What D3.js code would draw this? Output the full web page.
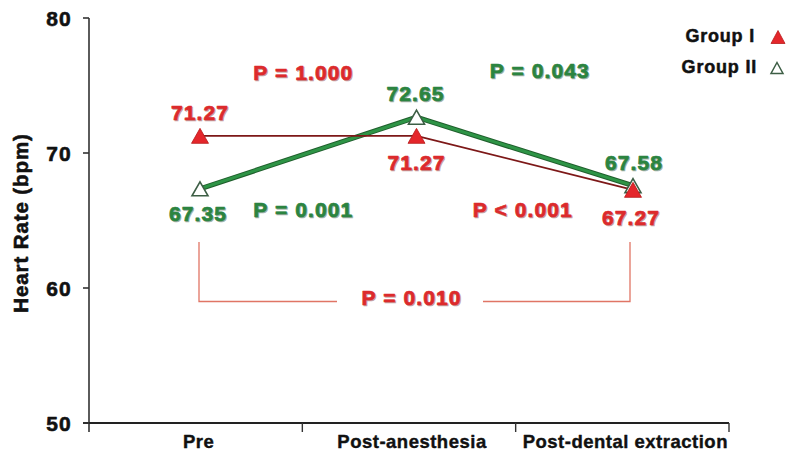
<!DOCTYPE html>
<html><head><meta charset="utf-8">
<script src="https://cdn.jsdelivr.net/npm/d3@7"></script>
<style>
html,body{margin:0;padding:0;background:#fff;}
svg{display:block;font-family:"Liberation Sans",Arial,Helvetica,sans-serif;font-weight:bold;}
</style></head>
<body>
<svg id="chart" width="789" height="455"></svg>
<script>
// ---- data ----
const categories = ["Pre", "Post-anesthesia", "Post-dental extraction"];
const group1 = [71.27, 71.27, 67.27];
const group2 = [67.35, 72.65, 67.58];
const seriesNames = ["Group I", "Group II"];
const yTicks = [50, 60, 70, 80];
const pLabels = ["P = 1.000", "P = 0.001", "P = 0.043", "P < 0.001", "P = 0.010"];

// ---- setup ----
const red = "#dc2a2c", green = "#2b8440", darkRed = "#7d1818", bracketCol = "#e07565";
const svg = d3.select("#chart");
const y = d3.scaleLinear().domain([50, 80]).range([423, 18]);
const xBand = d3.scaleBand().domain(categories).range([89, 729]);
const x = d3.scalePoint().domain(categories).range([200, 633]);

function heavy(sel, col, w) {
  return sel.attr("fill", col).attr("stroke", col).attr("stroke-width", w).attr("stroke-linejoin", "round");
}

// axes
const axisG = svg.append("g");
axisG.append("line").attr("x1", 89).attr("x2", 89).attr("y1", y(80)).attr("y2", y(50) + 9)
  .attr("stroke", "#333").attr("stroke-width", 1.6);
axisG.append("line").attr("x1", 83).attr("x2", 729).attr("y1", y(50)).attr("y2", y(50))
  .attr("stroke", "#222").attr("stroke-width", 1.8);
yTicks.forEach(t => {
  axisG.append("line").attr("x1", 83).attr("x2", 89).attr("y1", y(t)).attr("y2", y(t))
    .attr("stroke", "#333").attr("stroke-width", 1.6);
  heavy(axisG.append("text").attr("x", 72).attr("y", y(t) + 7.5).attr("text-anchor", "end")
    .attr("font-size", 21).attr("letter-spacing", 1.2).text(t), "#111", 0.6);
});
categories.forEach((c, i) => {
  const bx = xBand(c) + xBand.bandwidth();
  axisG.append("line").attr("x1", bx).attr("x2", bx).attr("y1", y(50)).attr("y2", y(50) + 9)
    .attr("stroke", "#333").attr("stroke-width", 1.4);
  heavy(axisG.append("text").attr("x", xBand(c) + xBand.bandwidth() / 2 + 3).attr("y", 448)
    .attr("text-anchor", "middle").attr("font-size", 18.5).attr("letter-spacing", 0.5)
    .text(c), "#111", 0.4);
});
heavy(svg.append("text").attr("transform", "translate(28,223) rotate(-90)")
  .attr("text-anchor", "middle").attr("font-size", 20.5).attr("letter-spacing", 0.9)
  .text("Heart Rate (bpm)"), "#111", 0.6);

// bracket (Pre vs Post-dental extraction)
const bx1 = x(categories[0]) - 1, bx2 = x(categories[2]) - 3;
const bTop = y(63.4), bBot = y(59.0);
const bracket = svg.append("g").attr("stroke", bracketCol).attr("stroke-width", 1.3).attr("fill", "none");
bracket.append("path").attr("d", `M${bx1},${bTop}V${bBot}H337`);
bracket.append("path").attr("d", `M483,${bBot}H${bx2}V${bTop}`);

// lines
const line = d3.line().x((d, i) => x(categories[i])).y(d => y(d));
svg.append("path").datum(group2).attr("d", line).attr("fill", "none")
  .attr("stroke", "#1f5e2c").attr("stroke-width", 5).attr("stroke-linejoin", "round");
svg.append("path").datum(group2).attr("d", line).attr("fill", "none")
  .attr("stroke", "#2e9446").attr("stroke-width", 3).attr("stroke-linejoin", "round");
svg.append("path").datum(group1).attr("d", line).attr("fill", "none")
  .attr("stroke", darkRed).attr("stroke-width", 1.8);

// markers
function tri(w, h) { return `M0,${-h / 2}L${w / 2},${h / 2}L${-w / 2},${h / 2}Z`; }
svg.append("g").selectAll("path").data(group2).join("path")
  .attr("transform", (d, i) => `translate(${x(categories[i])},${y(d)})`)
  .attr("d", tri(16, 14)).attr("fill", "#fff").attr("stroke", "#3d5e45").attr("stroke-width", 1.6);
svg.append("g").selectAll("path").data(group1).join("path")
  .attr("transform", (d, i) => `translate(${x(categories[i])},${y(d)})`)
  .attr("d", tri(17, 15)).attr("fill", "#e4262b").attr("stroke", "#b81c1c").attr("stroke-width", 0.8);

// value labels
function label(tx, ty, txt, col) {
  const g = svg.append("g");
  g.append("text").attr("x", tx + 1).attr("y", ty + 1).attr("text-anchor", "middle")
    .attr("font-size", 21).attr("letter-spacing", 1.1).attr("fill", col === red ? "#6a1010" : "#123a1c")
    .attr("stroke", col === red ? "#6a1010" : "#123a1c").attr("stroke-width", 0.7)
    .attr("opacity", 0.4).text(txt);
  heavy(g.append("text").attr("x", tx).attr("y", ty).attr("text-anchor", "middle")
    .attr("font-size", 21).attr("letter-spacing", 1.1).text(txt), col, 0.7);
}
const g1Off = [-16, 34, 35];
const g2Off = [32, -16, -16];
const g1Dx = [0, 0, -2];
const g2Dx = [-2, -1, 1];
group1.forEach((v, i) => label(x(categories[i]) + g1Dx[i], y(v) + g1Off[i], v.toFixed(2), red));
group2.forEach((v, i) => label(x(categories[i]) + g2Dx[i], y(v) + g2Off[i], v.toFixed(2), green));

// p-value annotations
const mid01 = (x(categories[0]) + x(categories[1])) / 2;
const mid12 = (x(categories[1]) + x(categories[2])) / 2;
const mid02 = (x(categories[0]) + x(categories[2])) / 2;
label(mid01 - 5, 80, pLabels[0], red);
label(mid01 - 5, 217, pLabels[1], green);
label(mid12 + 15, 78, pLabels[2], green);
label(mid12 - 2, 217, pLabels[3], red);
label(mid02 - 5, 305, pLabels[4], red);

// legend
const leg = svg.append("g");
heavy(leg.append("text").attr("x", 755).attr("y", 42).attr("text-anchor", "end")
  .attr("font-size", 18).attr("letter-spacing", 0.8).text(seriesNames[0]), "#111", 0.5);
heavy(leg.append("text").attr("x", 757).attr("y", 73).attr("text-anchor", "end")
  .attr("font-size", 18).attr("letter-spacing", 0.8).text(seriesNames[1]), "#111", 0.5);
leg.append("path").attr("transform", "translate(778,37)").attr("d", tri(14, 13))
  .attr("fill", "#e4262b").attr("stroke", "#b81c1c").attr("stroke-width", 0.8);
leg.append("path").attr("transform", "translate(777,68)").attr("d", tri(12, 11))
  .attr("fill", "#fff").attr("stroke", "#3d5e45").attr("stroke-width", 1.5);
</script>
</body></html>
